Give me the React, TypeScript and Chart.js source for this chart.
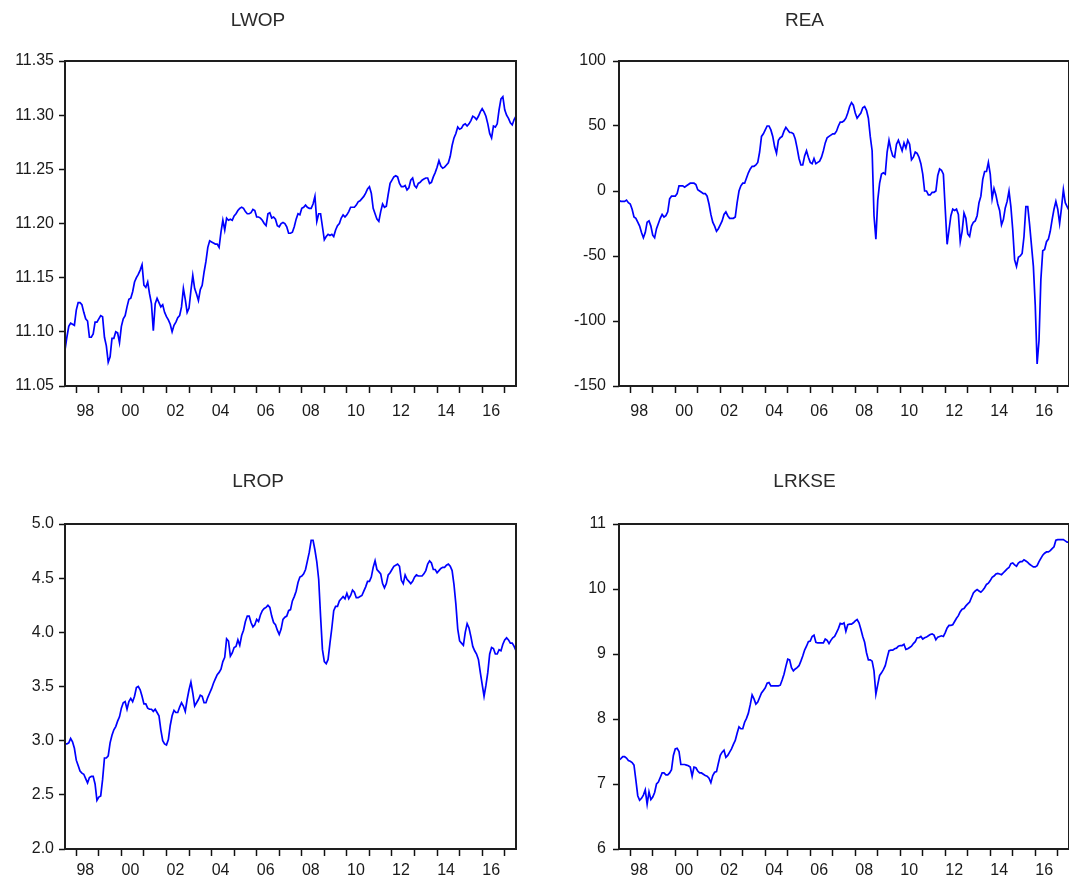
import React, { useEffect, useRef } from 'react';
import { Chart, registerables } from 'chart.js';

Chart.register(...registerables);

// Monthly observations, 1997M07 .. 2017M07
const START_YEAR = 1997;
const START_MONTH = 7;

const tickYears = [1998, 1999, 2000, 2001, 2002, 2003, 2004, 2005, 2006, 2007, 2008, 2009, 2010, 2011, 2012, 2013, 2014, 2015, 2016, 2017];
const labelYears = [1998, 2000, 2002, 2004, 2006, 2008, 2010, 2012, 2014, 2016];

const LWOP = [
  11.083, 11.095, 11.105, 11.108, 11.107, 11.106, 11.120, 11.127, 11.127, 11.125,
  11.118, 11.112, 11.110, 11.095, 11.095, 11.098, 11.109, 11.109, 11.112, 11.115,
  11.114, 11.095, 11.087, 11.072, 11.077, 11.094, 11.094, 11.100, 11.099, 11.090,
  11.105, 11.112, 11.115, 11.123, 11.130, 11.131, 11.137, 11.146, 11.150, 11.153,
  11.157, 11.162, 11.143, 11.141, 11.146, 11.135, 11.126, 11.101, 11.126, 11.131,
  11.127, 11.123, 11.125, 11.118, 11.114, 11.111, 11.107, 11.100, 11.106, 11.109,
  11.113, 11.115, 11.123, 11.140, 11.130, 11.118, 11.122, 11.138, 11.152, 11.140,
  11.135, 11.129, 11.139, 11.143, 11.155, 11.165, 11.178, 11.184, 11.183, 11.182,
  11.181, 11.181, 11.178, 11.192, 11.203, 11.194, 11.205, 11.203, 11.204, 11.203,
  11.207, 11.209, 11.212, 11.214, 11.215, 11.214, 11.211, 11.209, 11.209, 11.210,
  11.213, 11.212, 11.206, 11.206, 11.205, 11.203, 11.200, 11.198, 11.209, 11.210,
  11.205, 11.206, 11.204, 11.198, 11.197, 11.200, 11.201, 11.200, 11.197, 11.191,
  11.191, 11.192, 11.197, 11.204, 11.209, 11.208, 11.214, 11.215, 11.217, 11.215,
  11.214, 11.214, 11.218, 11.225, 11.202, 11.209, 11.209, 11.197, 11.185, 11.188,
  11.190, 11.189, 11.190, 11.188, 11.194, 11.198, 11.200, 11.205, 11.208, 11.206,
  11.208, 11.211, 11.215, 11.215, 11.215, 11.217, 11.220, 11.221, 11.223, 11.225,
  11.228, 11.232, 11.234, 11.228, 11.214, 11.209, 11.204, 11.202, 11.211, 11.218,
  11.215, 11.216, 11.227, 11.237, 11.240, 11.243, 11.244, 11.243, 11.237, 11.234,
  11.234, 11.235, 11.231, 11.233, 11.240, 11.242, 11.235, 11.233, 11.237, 11.238,
  11.240, 11.241, 11.242, 11.242, 11.237, 11.238, 11.243, 11.247, 11.252, 11.258,
  11.253, 11.251, 11.252, 11.254, 11.256, 11.262, 11.272, 11.279, 11.283, 11.289,
  11.287, 11.288, 11.291, 11.292, 11.290, 11.292, 11.295, 11.299, 11.298, 11.296,
  11.299, 11.303, 11.306, 11.303, 11.299, 11.292, 11.283, 11.279, 11.290, 11.289,
  11.292, 11.305, 11.315, 11.317, 11.305, 11.300, 11.297, 11.293, 11.291, 11.296,
  11.299,
];

const REA = [
  -7, -8, -8, -8, -7, -9, -10, -14, -20, -21,
  -24, -27, -32, -36, -32, -24, -23, -27, -34, -36,
  -29, -25, -21, -18, -20, -19, -16, -6, -4, -4,
  -4, -2, 4, 4, 4, 3, 4, 5, 6, 6,
  6, 5, 1, 0, -1, -2, -2, -4, -10, -18,
  -24, -27, -31, -29, -26, -23, -18, -16, -19, -21,
  -21, -21, -20, -9, 0, 4, 6, 6, 10, 14,
  17, 19, 19, 20, 22, 30, 42, 44, 47, 50,
  50, 47, 42, 34, 29, 39, 41, 42, 46, 49,
  47, 45, 45, 44, 40, 33, 25, 20, 20, 27,
  31, 26, 22, 21, 25, 21, 22, 23, 26, 31,
  37, 41, 42, 43, 44, 44, 46, 50, 53, 53,
  54, 56, 60, 65, 68, 66, 60, 56, 58, 60,
  64, 65, 62, 56, 42, 31, -19, -37, -7, 6,
  13, 14, 13, 30, 39, 32, 27, 26, 36, 39,
  35, 31, 37, 33, 39, 36, 24, 26, 30, 29,
  26, 21, 13, 0, 0, -3, -3, -1, -1, 0,
  12, 17, 16, 13, -14, -41, -30, -19, -14, -15,
  -14, -18, -39, -31, -17, -21, -33, -35, -27, -24,
  -23, -19, -9, -4, 9, 15, 15, 22, 13, -6,
  2, -3, -10, -15, -26, -22, -13, -8, 0, -12,
  -30, -53, -58, -51, -50, -48, -35, -12, -12, -26,
  -42, -58, -88, -133, -115, -68, -46, -45, -39, -37,
  -31, -22, -14, -8, -14, -25, -13, 1, -9, -12,
  -15,
];

const LROP = [
  2.97, 2.97, 2.98, 3.02, 2.99, 2.93, 2.82, 2.77, 2.72, 2.70,
  2.69, 2.65, 2.61, 2.66, 2.67, 2.67, 2.60, 2.45, 2.48, 2.49,
  2.64, 2.84, 2.84, 2.86, 2.98, 3.05, 3.10, 3.13, 3.18, 3.22,
  3.30, 3.35, 3.36, 3.29, 3.36, 3.39, 3.36, 3.41, 3.49, 3.50,
  3.47, 3.41, 3.34, 3.34, 3.30, 3.29, 3.29, 3.27, 3.29, 3.26,
  3.23, 3.10, 3.00, 2.97, 2.96, 3.01, 3.14, 3.23, 3.28, 3.26,
  3.26, 3.31, 3.35, 3.32, 3.27, 3.38, 3.47, 3.54, 3.44, 3.32,
  3.35, 3.38, 3.42, 3.41, 3.35, 3.35, 3.40, 3.44, 3.48, 3.53,
  3.57, 3.61, 3.63, 3.66, 3.73, 3.77, 3.94, 3.92, 3.78, 3.81,
  3.86, 3.87, 3.93, 3.88, 3.97, 4.02, 4.10, 4.15, 4.15, 4.09,
  4.05, 4.07, 4.12, 4.10, 4.16, 4.20, 4.22, 4.23, 4.25, 4.23,
  4.15, 4.09, 4.07, 4.02, 3.98, 4.03, 4.12, 4.14, 4.15, 4.20,
  4.21, 4.29, 4.33, 4.38, 4.46, 4.51, 4.52, 4.54, 4.58, 4.66,
  4.74, 4.85, 4.85, 4.76, 4.65, 4.49, 4.15, 3.84, 3.73, 3.71,
  3.75, 3.90, 4.04, 4.20, 4.24, 4.24, 4.29, 4.31, 4.33, 4.31,
  4.36, 4.31, 4.34, 4.39, 4.37, 4.32, 4.32, 4.33, 4.34, 4.38,
  4.42, 4.47, 4.47, 4.51, 4.60, 4.66, 4.58, 4.56, 4.54, 4.45,
  4.41, 4.45, 4.53, 4.55, 4.58, 4.61, 4.62, 4.63, 4.61, 4.48,
  4.45, 4.53, 4.49, 4.47, 4.45, 4.47, 4.51, 4.53, 4.52, 4.52,
  4.52, 4.54, 4.57, 4.63, 4.66, 4.64, 4.58, 4.58, 4.55, 4.57,
  4.59, 4.60, 4.60, 4.62, 4.63, 4.61, 4.57, 4.44, 4.26, 4.03,
  3.92, 3.90, 3.88, 4.00, 4.08, 4.04, 3.96, 3.87, 3.83, 3.80,
  3.75, 3.63, 3.52, 3.41, 3.51, 3.63, 3.80, 3.86, 3.85, 3.80,
  3.80, 3.84, 3.83, 3.89, 3.93, 3.95, 3.93, 3.90, 3.90, 3.87,
  3.83,
];

const LRKSE = [
  7.37, 7.39, 7.42, 7.42, 7.40, 7.36, 7.35, 7.33, 7.29, 7.06,
  6.82, 6.75, 6.78, 6.83, 6.91, 6.69, 6.88, 6.76, 6.80, 6.87,
  7.00, 7.03, 7.10, 7.17, 7.17, 7.14, 7.14, 7.17, 7.22, 7.44,
  7.54, 7.55, 7.50, 7.30, 7.30, 7.30, 7.29, 7.28, 7.26, 7.12,
  7.26, 7.25, 7.20, 7.17, 7.17, 7.15, 7.13, 7.12, 7.09, 7.02,
  7.13, 7.18, 7.19, 7.32, 7.44, 7.49, 7.52, 7.41, 7.44, 7.49,
  7.54, 7.61, 7.67, 7.78, 7.88, 7.85, 7.85, 7.95, 8.01, 8.09,
  8.22, 8.37, 8.31, 8.23, 8.26, 8.33, 8.40, 8.44, 8.48, 8.55,
  8.56, 8.51, 8.51, 8.51, 8.51, 8.51, 8.52, 8.60, 8.69, 8.81,
  8.92, 8.91, 8.79, 8.74, 8.77, 8.79, 8.82, 8.89, 8.97, 9.06,
  9.12, 9.19, 9.20, 9.27, 9.29, 9.18, 9.17, 9.17, 9.17, 9.17,
  9.23, 9.21, 9.16, 9.21, 9.25, 9.27, 9.33, 9.39, 9.47, 9.46,
  9.48, 9.35, 9.45, 9.46, 9.46, 9.48, 9.51, 9.53, 9.48, 9.38,
  9.27, 9.18, 9.02, 8.91, 8.91, 8.89, 8.74, 8.38, 8.53, 8.67,
  8.71, 8.76, 8.82, 8.94, 9.05, 9.06, 9.06, 9.08, 9.09, 9.12,
  9.13, 9.13, 9.15, 9.07, 9.08, 9.10, 9.12, 9.16, 9.19, 9.25,
  9.25, 9.27, 9.23, 9.25, 9.26, 9.28, 9.30, 9.31, 9.29, 9.22,
  9.26, 9.27, 9.28, 9.27, 9.33, 9.40, 9.44, 9.44, 9.45, 9.50,
  9.55, 9.59, 9.65, 9.69, 9.70, 9.74, 9.77, 9.80, 9.87, 9.94,
  9.97, 9.99, 9.97, 9.95, 9.98, 10.02, 10.07, 10.09, 10.13, 10.18,
  10.20, 10.23, 10.24, 10.23, 10.22, 10.25, 10.28, 10.31, 10.33, 10.39,
  10.40, 10.37, 10.35, 10.40, 10.42, 10.42, 10.45, 10.43, 10.41, 10.38,
  10.36, 10.34, 10.34, 10.36, 10.42, 10.47, 10.52, 10.55, 10.57, 10.57,
  10.59, 10.62, 10.65, 10.75, 10.76, 10.76, 10.76, 10.76, 10.74, 10.72,
  10.72,
];

const lwopTicks = [11.05, 11.10, 11.15, 11.20, 11.25, 11.30, 11.35];
const reaTicks = [-150, -100, -50, 0, 50, 100];
const lropTicks = [2.0, 2.5, 3.0, 3.5, 4.0, 4.5, 5.0];
const lrkseTicks = [6, 7, 8, 9, 10, 11];

const FONT = '"Liberation Sans", Arial, Helvetica, sans-serif';
const TITLE_SIZE = 19;
const TICK_SIZE = 16;

type PanelDef = {
  title: string;
  values: number[];
  yTicks: number[];
  decimals: number;
  left: number;
  top: number;
  width: number;
  height: number;
  area: { left: number; right: number; top: number; bottom: number };
  titleY: number;
  xPad: number;
  yPad: number;
};

const panels: PanelDef[] = [
  { title: 'LWOP', values: LWOP, yTicks: lwopTicks, decimals: 2, left: 0, top: 0, width: 530, height: 440,
    area: { left: 65, right: 516, top: 61, bottom: 386 }, titleY: 21, xPad: 9, yPad: 5 },
  { title: 'REA', values: REA, yTicks: reaTicks, decimals: 0, left: 540, top: 0, width: 545, height: 440,
    area: { left: 619, right: 1069, top: 61, bottom: 386 }, titleY: 21, xPad: 9, yPad: 7 },
  { title: 'LROP', values: LROP, yTicks: lropTicks, decimals: 1, left: 0, top: 440, width: 530, height: 440,
    area: { left: 65, right: 516, top: 524, bottom: 849 }, titleY: 482, xPad: 5, yPad: 5 },
  { title: 'LRKSE', values: LRKSE, yTicks: lrkseTicks, decimals: 0, left: 540, top: 440, width: 545, height: 440,
    area: { left: 619, right: 1069, top: 524, bottom: 849 }, titleY: 482, xPad: 5, yPad: 7 },
];

const framePlugin = {
  id: 'frameBox',
  afterDatasetsDraw(chart: any) {
    const { ctx, chartArea: a } = chart;
    ctx.save();
    ctx.strokeStyle = '#1e1e1e';
    ctx.lineWidth = 2;
    ctx.strokeRect(a.left, a.top, a.right - a.left, a.bottom - a.top);
    ctx.restore();
  },
};

function Panel({ def }: { def: PanelDef }) {
  const ref = useRef<HTMLCanvasElement | null>(null);
  useEffect(() => {
    if (!ref.current) return;
    const pts = def.values.map((v, i) => ({ x: START_YEAR + (START_MONTH - 1 + i) / 12, y: v }));
    const xMin = START_YEAR + (START_MONTH - 1) / 12;
    const xMax = START_YEAR + (START_MONTH - 1 + def.values.length - 1) / 12;
    const aL = def.area.left - def.left;
    const aR = def.area.right - def.left;
    const aT = def.area.top - def.top;
    const aB = def.area.bottom - def.top;
    const lineH = TITLE_SIZE * 1.2;
    const tPadTop = def.titleY - def.top - lineH / 2;
    const tPadBottom = aT - tPadTop - lineH;
    const yMin = def.yTicks[0];
    const yMax = def.yTicks[def.yTicks.length - 1];

    const chart = new Chart(ref.current, {
      type: 'line',
      data: {
        datasets: [
          {
            data: pts,
            borderColor: '#0000ff',
            borderWidth: 1.7,
            pointRadius: 0,
            pointHoverRadius: 0,
            tension: 0,
            fill: false,
          },
        ],
      },
      options: {
        animation: false,
        responsive: false,
        devicePixelRatio: 1,
        events: [],
        layout: { padding: { left: 0, right: def.width - aR, top: 0, bottom: 0 } },
        plugins: {
          legend: { display: false },
          tooltip: { enabled: false },
          title: {
            display: true,
            text: def.title,
            color: '#2a2a2a',
            font: { family: FONT, size: TITLE_SIZE, weight: 'normal', lineHeight: 1.2 },
            padding: { top: tPadTop, bottom: tPadBottom },
          },
        },
        scales: {
          x: {
            type: 'linear',
            min: xMin,
            max: xMax,
            afterBuildTicks: (s: any) => {
              s.ticks = tickYears.map((v) => ({ value: v }));
            },
            afterFit: (s: any) => {
              s.height = def.height - aB;
            },
            ticks: {
              autoSkip: false,
              maxRotation: 0,
              minRotation: 0,
              labelOffset: 9,
              padding: def.xPad,
              color: '#1a1a1a',
              font: { family: FONT, size: TICK_SIZE },
              callback: (v: any) => (labelYears.includes(Number(v)) ? String(v).slice(2) : ''),
            },
            grid: {
              display: true,
              drawOnChartArea: false,
              drawTicks: true,
              tickLength: 7,
              tickColor: '#111',
              tickWidth: 1.5,
            },
            border: { display: false },
          },
          y: {
            type: 'linear',
            min: yMin,
            max: yMax,
            afterBuildTicks: (s: any) => {
              s.ticks = def.yTicks.map((v) => ({ value: v }));
            },
            afterFit: (s: any) => {
              s.width = aL;
            },
            ticks: {
              padding: def.yPad,
              color: '#1a1a1a',
              font: { family: FONT, size: TICK_SIZE },
              callback: (v: any) => Number(v).toFixed(def.decimals),
            },
            grid: {
              display: true,
              drawOnChartArea: false,
              drawTicks: true,
              tickLength: 6,
              tickColor: '#111',
              tickWidth: 1.5,
            },
            border: { display: false },
          },
        },
      },
      plugins: [framePlugin],
    } as any);
    return () => chart.destroy();
  }, [def]);

  return (
    <div style={{ position: 'absolute', left: def.left, top: def.top, width: def.width, height: def.height }}>
      <canvas
        ref={ref}
        width={def.width}
        height={def.height}
        style={{ width: def.width, height: def.height, display: 'block' }}
      />
    </div>
  );
}

export default function App() {
  return (
    <div
      style={{
        position: 'absolute',
        left: 0,
        top: 0,
        width: 1069,
        height: 880,
        overflow: 'hidden',
        background: '#ffffff',
      }}
    >
      {panels.map((p) => (
        <Panel key={p.title} def={p} />
      ))}
    </div>
  );
}
